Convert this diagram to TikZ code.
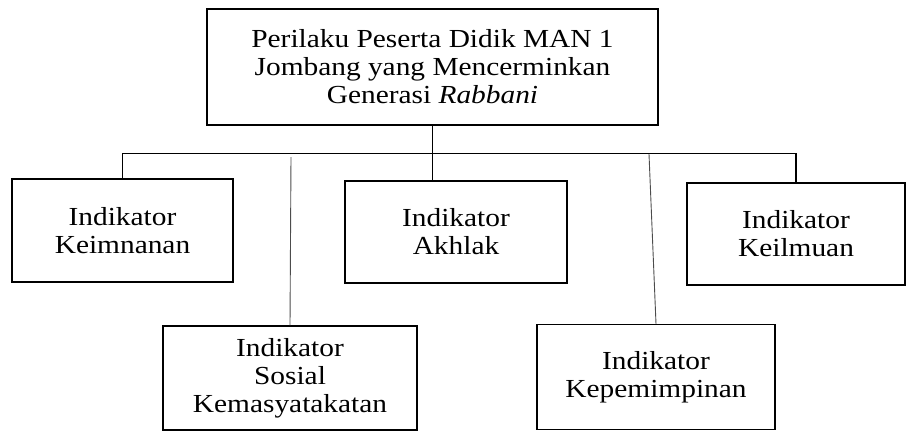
\documentclass[tikz,border=0pt]{standalone}
\usepackage{fontspec}
\setmainfont{Liberation Serif}
\newfontfamily\boxfont[FakeStretch=1.13]{Liberation Serif}
\usetikzlibrary{calc}

\begin{document}
\begin{tikzpicture}[x=1pt, y=-1pt, box/.style={draw, line width=1.3pt, rectangle, align=center, inner sep=0pt, font=\boxfont\fontsize{26}{28}\selectfont}, link/.style={line width=1.3pt}, loose/.style={line width=0.9pt, black!70}]

\useasboundingbox (0,0) rectangle (906,432);

\node[box, minimum width=451pt, minimum height=116pt] (prl) at (432.5,67) {Perilaku Peserta Didik MAN 1\\Jombang yang Mencerminkan\\Generasi \textit{Rabbani}};

\node[box, minimum width=221pt, minimum height=103pt] (kei) at (122.5,230.5) {Indikator\\Keimnanan};
\node[box, minimum width=222pt, minimum height=102pt] (akh) at (456,232) {Indikator\\Akhlak};
\node[box, minimum width=218pt, minimum height=102pt] (ilm) at (796,234) {Indikator\\Keilmuan};
\node[box, minimum width=254pt, minimum height=104pt] (sos) at (290,378) {Indikator\\Sosial\\Kemasyatakatan};
\node[box, minimum width=238pt, minimum height=105pt] (kep) at (656,377) {Indikator\\Kepemimpinan};

\coordinate (hub) at ($(prl.south) + (0,28)$);
\coordinate (sosTop) at (291,157);
\coordinate (kepTop) at (649,154);

\draw[link] (prl.south) -- (hub);
\draw[link] (kei.north) |- (hub) -| (ilm.north);
\draw[link] (hub) -- (hub |- akh.north);

\draw[loose] (sosTop) -- (sos.north);
\draw[loose] (kepTop) -- (kep.north);

\end{tikzpicture}
\end{document}
